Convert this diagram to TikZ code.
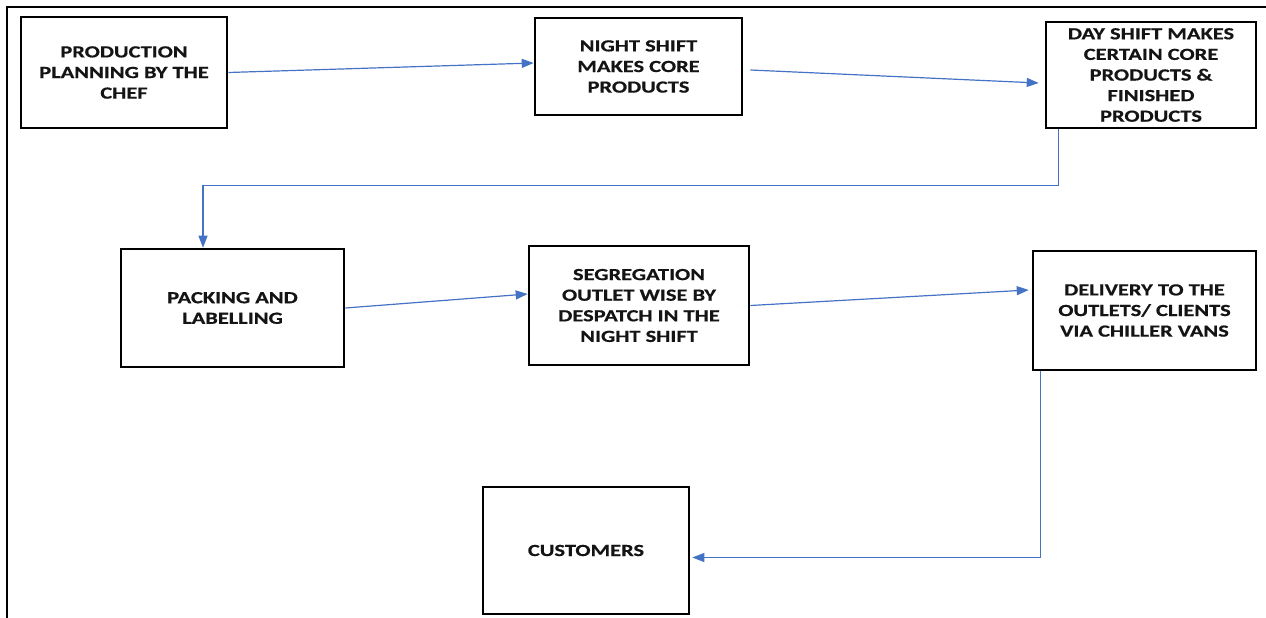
\documentclass[tikz,border=0pt]{standalone}
\usepackage{fontspec}
\setmainfont{Carlito}
\newfontfamily\boxfont{Carlito}[FakeStretch=1.32, FakeBold=0.6]
\usetikzlibrary{arrows.meta,calc}
\definecolor{arrblue}{HTML}{4472C4}
\tikzset{
  procbox/.style={draw=black, line width=2.6pt, align=center, inner sep=2pt,
    font=\boxfont\bfseries\fontsize{17}{20.6}\selectfont, text=black!92},
  flow/.style={draw=arrblue, line width=1.2pt, -{Triangle[length=12pt,width=9pt]}},
}
\begin{document}
\begin{tikzpicture}[x=1pt,y=-1pt]
\useasboundingbox (0,0) rectangle (1266,618);
\draw[line width=1.6pt] (7,618) -- (7,7) -- (1266,7);
\node[procbox, minimum width=206pt, minimum height=111pt] (prod) at (124,72.5) {PRODUCTION\\PLANNING BY THE\\CHEF};
\node[procbox, minimum width=207pt, minimum height=97pt] (night) at (638.5,66.5) {NIGHT SHIFT\\MAKES CORE\\PRODUCTS};
\node[procbox, minimum width=210pt, minimum height=106pt] (day) at (1151,75) {DAY SHIFT MAKES\\CERTAIN CORE\\PRODUCTS \&\\FINISHED\\PRODUCTS};
\node[procbox, minimum width=223pt, minimum height=118pt] (pack) at (232.5,308) {PACKING AND\\LABELLING};
\node[procbox, minimum width=220pt, minimum height=119pt] (seg) at (639,305.5) {SEGREGATION\\OUTLET WISE BY\\DESPATCH IN THE\\NIGHT SHIFT};
\node[procbox, minimum width=223pt, minimum height=119pt] (deliv) at (1144.5,310.5) {DELIVERY TO THE\\OUTLETS/ CLIENTS\\VIA CHILLER VANS};
\node[procbox, minimum width=206pt, minimum height=127pt] (cust) at (586,550.5) {CUSTOMERS};

\coordinate (d1) at ($(day.south west)+(14,0)$);
\coordinate (d2) at ($(d1)+(0,56)$);
\coordinate (p1) at ($(pack.north)+(-29.5,0)$);
\coordinate (e1) at ($(deliv.south west)+(9,0)$);
\coordinate (e2) at ($(cust.east)+(2,7)$);

\draw[flow] (prod.east) -- ([yshift=3.5pt]night.west);
\draw[flow] ([xshift=7pt,yshift=-3.5pt]night.east) -- ([xshift=-6pt,yshift=-8pt]day.west);
\draw[flow] (d1) -- (d2) -| (p1);
\draw[flow] (pack.east) -- ([yshift=11.5pt]seg.west);
\draw[flow] (seg.east) -- ([xshift=-3pt,yshift=20.5pt]deliv.west);
\draw[flow] (e1) |- (e2);
\end{tikzpicture}
\end{document}
